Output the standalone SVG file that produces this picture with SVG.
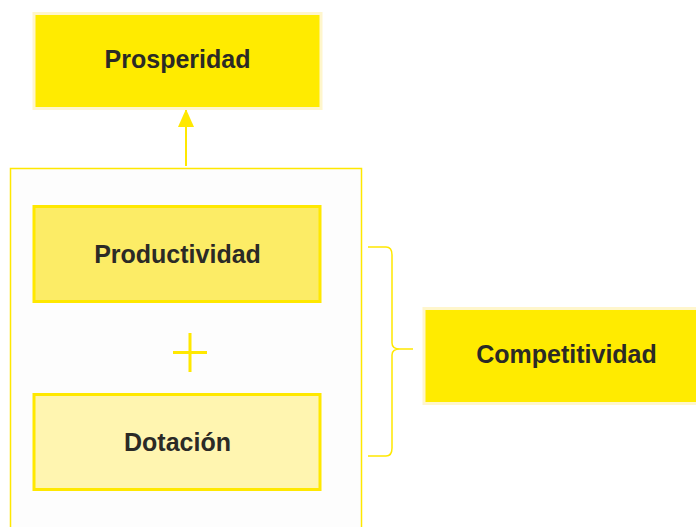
<svg xmlns="http://www.w3.org/2000/svg" width="696" height="527" viewBox="0 0 696 527">
<defs>
<style>
.t{font-family:"Liberation Sans",Arial,sans-serif;font-weight:bold;font-size:25px;fill:#2b2a26;text-anchor:middle}
.ln{stroke:#FFE800;fill:none}
</style>
<marker id="ah" markerWidth="18" markerHeight="16" refX="17" refY="8" orient="auto" markerUnits="userSpaceOnUse" viewBox="0 0 18 16">
<path d="M0,0 L18,8 L0,16 Z" fill="#FFE800"/>
</marker>
</defs>
<rect width="696" height="527" fill="#ffffff"/>
<g id="contenedor">
<rect x="10.5" y="168.5" width="351" height="370" fill="#FDFDFD" stroke="#FFE800" stroke-width="1.5"/>
</g>
<g id="connectors">
<line class="ln" x1="186" y1="166" x2="186" y2="110" stroke-width="2" marker-end="url(#ah)"/>
<path class="ln" stroke-width="1.5" d="M368,247 L386,247 Q392,247 392,255 L392,343 Q392,349 400,349 L413,349 L400,349 Q392,349 392,355 L392,448 Q392,456 386,456 L368,456"/>
<path class="ln" stroke-width="3" d="M173,352.5 L207,352.5 M190,333 L190,372"/>
</g>
<g id="prosperidad">
<rect x="34" y="13.5" width="287" height="95" fill="#FFEB00" stroke="#FFF6CC" stroke-width="3"/>
<text class="t" x="177.5" y="68">Prosperidad</text>
</g>
<g id="productividad">
<rect x="34" y="206.5" width="286" height="95" fill="#FCEC66" stroke="#FFE800" stroke-width="3"/>
<text class="t" x="177.5" y="263">Productividad</text>
</g>
<g id="dotacion">
<rect x="34" y="394.5" width="286" height="95" fill="#FFF5B0" stroke="#FFE800" stroke-width="3"/>
<text class="t" x="177.5" y="450.5">Dotación</text>
</g>
<g id="competitividad">
<rect x="424" y="308.5" width="275" height="95" fill="#FFEB00" stroke="#FFF6CC" stroke-width="3"/>
<text class="t" x="566.5" y="362.5">Competitividad</text>
</g>
</svg>
